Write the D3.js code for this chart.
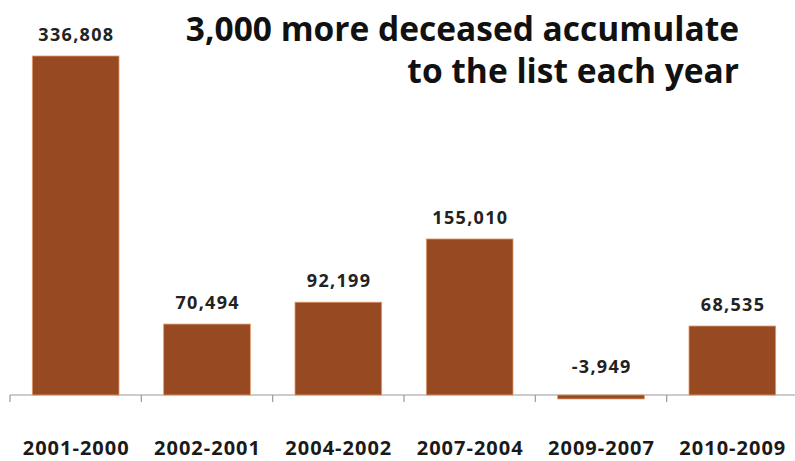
<!DOCTYPE html>
<html>
<head>
<meta charset="utf-8">
<script src="https://cdn.jsdelivr.net/npm/d3@7"></script>
<style>
  html, body { margin: 0; padding: 0; background: #ffffff; }
  svg { display: block; }
  text { font-family: "Open Sans", "Noto Sans", sans-serif; font-weight: 700; }
</style>
</head>
<body>
<div id="chart"></div>
<script>
// Year-over-year change in deceased entries on the list
const periods = ["2001-2000", "2002-2001", "2004-2002", "2007-2004", "2009-2007", "2010-2009"];
const changes = [336808, 70494, 92199, 155010, -3949, 68535];
const titleLines = ["3,000 more deceased accumulate", "to the list each year"];

const width = 795, height = 461;
const svg = d3.select("#chart").append("svg")
  .attr("width", width)
  .attr("height", height);

const x = d3.scaleBand()
  .domain(periods)
  .range([10, 798])
  .paddingInner(0.34)
  .paddingOuter(0.17);

const y = d3.scaleLinear()
  .domain([0, 336808])
  .range([395, 56]);

// Horizontal axis with tick marks between categories
const axisG = svg.append("g");
axisG.append("line")
  .attr("x1", 10).attr("x2", width)
  .attr("y1", y(0)).attr("y2", y(0))
  .attr("stroke", "#9a9a9a").attr("stroke-width", 1.2);

const step = x.step();
const tickXs = d3.range(periods.length + 1).map(i => x.range()[0] + i * step);
axisG.selectAll("line.tick")
  .data(tickXs)
  .join("line")
  .attr("class", "tick")
  .attr("x1", d => d).attr("x2", d => d)
  .attr("y1", y(0)).attr("y2", y(0) + 7)
  .attr("stroke", "#9a9a9a").attr("stroke-width", 1.2);

// Bars
svg.selectAll("rect.bar")
  .data(changes)
  .join("rect")
  .attr("class", "bar")
  .attr("x", (d, i) => x(periods[i]))
  .attr("width", x.bandwidth())
  .attr("y", d => Math.min(y(d), y(0)))
  .attr("height", d => Math.abs(y(d) - y(0)))
  .attr("fill", "#974a22")
  .attr("stroke", "#e09a6c")
  .attr("stroke-width", 0.8);

// Value labels (plain hyphen for negatives)
const fmt = d3.formatLocale({
  decimal: ".", thousands: ",", grouping: [3], currency: ["$", ""], minus: "-"
}).format(",");
svg.selectAll("text.value")
  .data(changes)
  .join("text")
  .attr("class", "value")
  .attr("x", (d, i) => x(periods[i]) + x.bandwidth() / 2 + 0.7)
  .attr("y", d => d >= 0 ? y(d) - 15 : y(0) - 22)
  .attr("text-anchor", "middle")
  .attr("font-size", 18)
  .attr("letter-spacing", 1.3)
  .attr("fill", "#222")
  .text(d => fmt(d));

// Category labels
svg.selectAll("text.cat")
  .data(periods)
  .join("text")
  .attr("class", "cat")
  .attr("x", d => x(d) + x.bandwidth() / 2 + 0.5)
  .attr("y", 455)
  .attr("text-anchor", "middle")
  .attr("font-size", 20)
  .attr("letter-spacing", 1)
  .attr("fill", "#1a1a1a")
  .text(d => d);

// Title, right aligned
svg.selectAll("text.title")
  .data(titleLines)
  .join("text")
  .attr("class", "title")
  .attr("x", 739)
  .attr("y", (d, i) => 41 + i * 42)
  .attr("text-anchor", "end")
  .attr("font-size", 33.5)
  .attr("fill", "#111")
  .text(d => d);
</script>
</body>
</html>
